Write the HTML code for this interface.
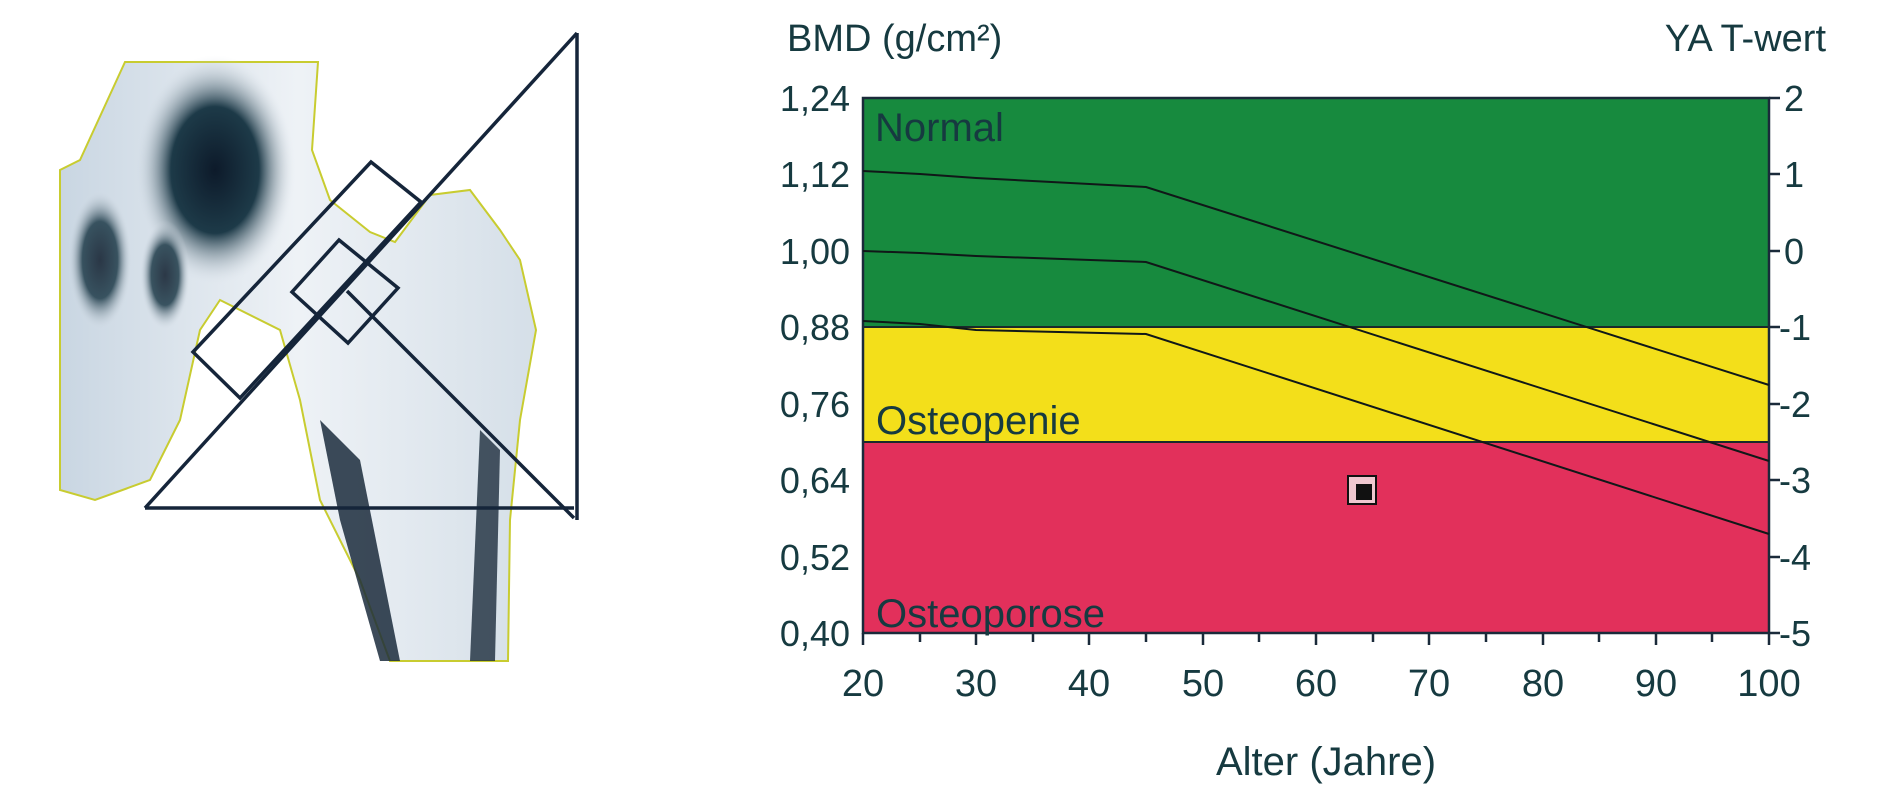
<!DOCTYPE html>
<html><head><meta charset="utf-8"><style>
html,body{margin:0;padding:0;background:#fff;}
svg{display:block;}
text{font-family:"Liberation Sans",sans-serif;fill:#163a40;}
</style></head><body>
<svg width="1898" height="800" viewBox="0 0 1898 800" xmlns="http://www.w3.org/2000/svg">
<defs>
<radialGradient id="dk" cx="50%" cy="50%" r="50%"><stop offset="0" stop-color="#0d1a2a"/><stop offset="0.55" stop-color="#1d3a48"/><stop offset="1" stop-color="#dfe6ee" stop-opacity="0"/></radialGradient>
<linearGradient id="bn" x1="0" x2="1"><stop offset="0" stop-color="#c9d6e2"/><stop offset="0.5" stop-color="#eef2f6"/><stop offset="1" stop-color="#d5dfe8"/></linearGradient>
</defs>
<g>
<path d="M125,62 L318,62 L312,150 L330,200 L370,232 L395,242 L430,195 L470,190 L500,230 L520,260 L536,330 L520,420 L510,520 L508,661 L390,661 L360,580 L320,500 L300,400 L280,330 L220,300 L200,330 L180,420 L150,480 L95,500 L60,490 L60,170 L80,160 Z" fill="url(#bn)" stroke="#c8cc30" stroke-width="2"/>
<ellipse cx="215" cy="170" rx="80" ry="115" fill="url(#dk)"/>
<ellipse cx="100" cy="260" rx="32" ry="70" fill="url(#dk)" opacity="0.85"/>
<ellipse cx="165" cy="275" rx="25" ry="55" fill="url(#dk)" opacity="0.85"/>
<path d="M320,420 L360,460 L400,661 L380,661 L340,520 Z" fill="#1b2c3c" opacity="0.85"/>
<path d="M480,430 L500,450 L495,661 L470,661 Z" fill="#1b2c3c" opacity="0.8"/>
</g>
<g fill="none" stroke="#15253a" stroke-width="3.5">
<line x1="577" y1="33" x2="577" y2="520"/>
<line x1="577" y1="33" x2="145" y2="508"/>
<line x1="145" y1="508" x2="574" y2="508"/>
<line x1="347" y1="291" x2="574" y2="518"/>
<polygon points="371,162 421,202 240,398 193,352"/>
<polygon points="339,240 398,288 348,343 292,292"/>
</g>
<rect x="863" y="98" width="906" height="229" fill="#178a3e"/>
<rect x="863" y="327" width="906" height="115" fill="#f3df1a"/>
<rect x="863" y="442" width="906" height="191" fill="#e2305b"/>
<line x1="863" y1="327" x2="1769" y2="327" stroke="#1a2a2a" stroke-width="2"/>
<line x1="863" y1="442" x2="1769" y2="442" stroke="#1a2a2a" stroke-width="2"/>
<rect x="863" y="98" width="906" height="535" fill="none" stroke="#1a2a3a" stroke-width="2.5"/>
<g fill="none" stroke="#101818" stroke-width="2">
<polyline points="863,171 920,174 976,178 1146,187 1769,385"/>
<polyline points="863,251 920,253 976,256 1146,262 1769,461"/>
<polyline points="863,321 920,324 976,330 1146,334 1769,534"/>
</g>
<rect x="1348" y="476" width="28" height="28" fill="#f0c8d0" stroke="#111" stroke-width="2"/>
<rect x="1356" y="484" width="16" height="16" fill="#111"/>
<text x="875" y="141" font-size="40">Normal</text>
<text x="876" y="434" font-size="40">Osteopenie</text>
<text x="876" y="627" font-size="40">Osteoporose</text>
<g stroke="#1a2a3a" stroke-width="2.5">
<line x1="863" y1="633" x2="863" y2="645"/><line x1="920" y1="633" x2="920" y2="642"/>
<line x1="976" y1="633" x2="976" y2="645"/><line x1="1033" y1="633" x2="1033" y2="642"/>
<line x1="1089" y1="633" x2="1089" y2="645"/><line x1="1146" y1="633" x2="1146" y2="642"/>
<line x1="1203" y1="633" x2="1203" y2="645"/><line x1="1259" y1="633" x2="1259" y2="642"/>
<line x1="1316" y1="633" x2="1316" y2="645"/><line x1="1373" y1="633" x2="1373" y2="642"/>
<line x1="1429" y1="633" x2="1429" y2="645"/><line x1="1486" y1="633" x2="1486" y2="642"/>
<line x1="1543" y1="633" x2="1543" y2="645"/><line x1="1599" y1="633" x2="1599" y2="642"/>
<line x1="1656" y1="633" x2="1656" y2="645"/><line x1="1712" y1="633" x2="1712" y2="642"/>
<line x1="1769" y1="633" x2="1769" y2="645"/>
<line x1="1769" y1="98" x2="1780" y2="98"/><line x1="1769" y1="174" x2="1780" y2="174"/>
<line x1="1769" y1="251" x2="1780" y2="251"/><line x1="1769" y1="327" x2="1780" y2="327"/>
<line x1="1769" y1="404" x2="1780" y2="404"/><line x1="1769" y1="480" x2="1780" y2="480"/>
<line x1="1769" y1="557" x2="1780" y2="557"/><line x1="1769" y1="633" x2="1780" y2="633"/>
</g>
<g font-size="36" text-anchor="end">
<text x="850" y="111">1,24</text><text x="850" y="187">1,12</text>
<text x="850" y="264">1,00</text><text x="850" y="340">0,88</text>
<text x="850" y="417">0,76</text><text x="850" y="493">0,64</text>
<text x="850" y="570">0,52</text><text x="850" y="646">0,40</text>
</g>
<g font-size="36">
<text x="1784" y="111">2</text><text x="1784" y="187">1</text>
<text x="1784" y="264">0</text><text x="1779" y="340">-1</text>
<text x="1779" y="417">-2</text><text x="1779" y="493">-3</text>
<text x="1779" y="570">-4</text><text x="1779" y="646">-5</text>
</g>
<g font-size="38" text-anchor="middle">
<text x="863" y="696">20</text><text x="976" y="696">30</text>
<text x="1089" y="696">40</text><text x="1203" y="696">50</text>
<text x="1316" y="696">60</text><text x="1429" y="696">70</text>
<text x="1543" y="696">80</text><text x="1656" y="696">90</text>
<text x="1769" y="696">100</text>
<text x="1326" y="775" font-size="40">Alter (Jahre)</text>
</g>
<text x="787" y="51" font-size="38">BMD (g/cm²)</text>
<text x="1826" y="51" font-size="38" text-anchor="end">YA T-wert</text>
</svg>
</body></html>
